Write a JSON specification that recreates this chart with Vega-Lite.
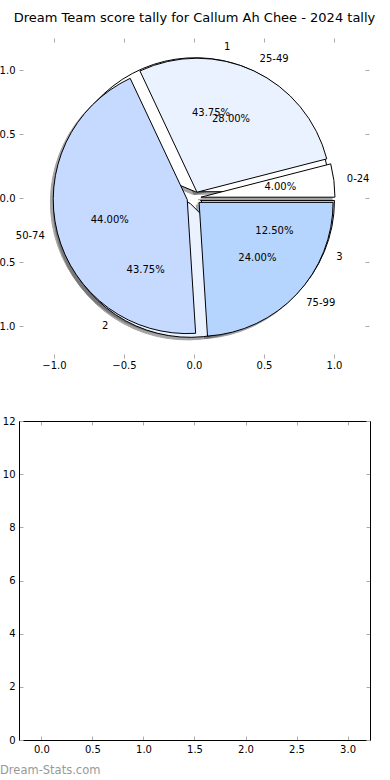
{
  "$schema": "https://vega.github.io/schema/vega-lite/v6.json",
  "width": 351,
  "height": 702,
  "autosize": {"type": "none"},
  "padding": {"left": 19, "top": 38, "right": 20, "bottom": 40},
  "background": "white",
  "title": {"text": "Dream Team score tally for Callum Ah Chee - 2024 tally", "font": "DejaVu Sans", "fontSize": 13, "fontWeight": "normal", "color": "#000", "anchor": "middle", "frame": "group", "baseline": "alphabetic", "offset": 2.3},
  "config": {
    "view": {"stroke": null},
    "font": "DejaVu Sans",
    "axis": {"labelFont": "DejaVu Sans", "labelFontSize": 10, "labelColor": "#000", "tickColor": "#aaa", "tickWidth": 1, "tickSize": -4, "grid": false, "domainColor": "#000", "domainWidth": 1}
  },
  "datasets": {
    "tally": [
      {"label": "0-24", "frac": 0.04},
      {"label": "25-49", "frac": 0.28},
      {"label": "50-74", "frac": 0.44},
      {"label": "75-99", "frac": 0.24}
    ],
    "other": [
      {"label": "1", "frac": 0.4375},
      {"label": "2", "frac": 0.4375},
      {"label": "3", "frac": 0.125}
    ]
  },
  "layer": [
    {
      "layer": [
        {"data": {"name": "other"}, "transform": [{"stack": "frac", "groupby": [], "sort": [{"field": "label", "order": "ascending"}], "as": ["t0", "t1"]}, {"filter": "datum.label === '1'"}],
         "mark": {"type": "arc", "radius": 134, "fill": "#4d4d4d", "stroke": "#4d4d4d", "strokeWidth": 1, "opacity": 0.5},
         "encoding": {"x": {"datum": -0.0102, "type": "quantitative", "scale": {"domain": [-1.25, 1.25], "range": [0, 350], "nice": false, "zero": false}, "axis": null},
                      "y": {"datum": 0.029, "type": "quantitative", "scale": {"domain": [-1.25, 1.25], "range": [320, 0], "nice": false, "zero": false}, "axis": null},
                      "theta": {"field": "t0", "type": "quantitative", "stack": null, "scale": {"domain": [0, 1], "range": [1.5707963, -4.712389]}}, "theta2": {"field": "t1"}}},
        {"data": {"name": "other"}, "transform": [{"stack": "frac", "groupby": [], "sort": [{"field": "label", "order": "ascending"}], "as": ["t0", "t1"]}, {"filter": "datum.label === '2'"}],
         "mark": {"type": "arc", "radius": 134, "fill": "#4d4d4d", "stroke": "#4d4d4d", "strokeWidth": 1, "opacity": 0.5},
         "encoding": {"x": {"datum": -0.0478, "type": "quantitative", "scale": {"domain": [-1.25, 1.25], "range": [0, 350], "nice": false, "zero": false}, "axis": null},
                      "y": {"datum": -0.0616, "type": "quantitative", "scale": {"domain": [-1.25, 1.25], "range": [320, 0], "nice": false, "zero": false}, "axis": null},
                      "theta": {"field": "t0", "type": "quantitative", "stack": null, "scale": {"domain": [0, 1], "range": [1.5707963, -4.712389]}}, "theta2": {"field": "t1"}}},
        {"data": {"name": "other"}, "transform": [{"stack": "frac", "groupby": [], "sort": [{"field": "label", "order": "ascending"}], "as": ["t0", "t1"]}, {"filter": "datum.label === '3'"}],
         "mark": {"type": "arc", "radius": 134, "fill": "#4d4d4d", "stroke": "#4d4d4d", "strokeWidth": 1, "opacity": 0.5},
         "encoding": {"x": {"datum": 0.0262, "type": "quantitative", "scale": {"domain": [-1.25, 1.25], "range": [0, 350], "nice": false, "zero": false}, "axis": null},
                      "y": {"datum": -0.0391, "type": "quantitative", "scale": {"domain": [-1.25, 1.25], "range": [320, 0], "nice": false, "zero": false}, "axis": null},
                      "theta": {"field": "t0", "type": "quantitative", "stack": null, "scale": {"domain": [0, 1], "range": [1.5707963, -4.712389]}}, "theta2": {"field": "t1"}}},
        {"data": {"name": "tally"}, "transform": [{"stack": "frac", "groupby": [], "sort": [{"field": "label", "order": "ascending"}], "as": ["t0", "t1"]}, {"filter": "datum.label === '0-24'"}],
         "mark": {"type": "arc", "radius": 134, "fill": "#4d4d4d", "stroke": "#4d4d4d", "strokeWidth": 1, "opacity": 0.5},
         "encoding": {"x": {"datum": 0.0296, "type": "quantitative", "scale": {"domain": [-1.25, 1.25], "range": [0, 350], "nice": false, "zero": false}, "axis": null},
                      "y": {"datum": -0.0137, "type": "quantitative", "scale": {"domain": [-1.25, 1.25], "range": [320, 0], "nice": false, "zero": false}, "axis": null},
                      "theta": {"field": "t0", "type": "quantitative", "stack": null, "scale": {"domain": [0, 1], "range": [1.5707963, -4.712389]}}, "theta2": {"field": "t1"}}},
        {"data": {"name": "tally"}, "transform": [{"stack": "frac", "groupby": [], "sort": [{"field": "label", "order": "ascending"}], "as": ["t0", "t1"]}, {"filter": "datum.label === '25-49'"}],
         "mark": {"type": "arc", "radius": 134, "fill": "#4d4d4d", "stroke": "#4d4d4d", "strokeWidth": 1, "opacity": 0.5},
         "encoding": {"x": {"datum": 0.0013, "type": "quantitative", "scale": {"domain": [-1.25, 1.25], "range": [0, 350], "nice": false, "zero": false}, "axis": null},
                      "y": {"datum": 0.0252, "type": "quantitative", "scale": {"domain": [-1.25, 1.25], "range": [320, 0], "nice": false, "zero": false}, "axis": null},
                      "theta": {"field": "t0", "type": "quantitative", "stack": null, "scale": {"domain": [0, 1], "range": [1.5707963, -4.712389]}}, "theta2": {"field": "t1"}}},
        {"data": {"name": "tally"}, "transform": [{"stack": "frac", "groupby": [], "sort": [{"field": "label", "order": "ascending"}], "as": ["t0", "t1"]}, {"filter": "datum.label === '50-74'"}],
         "mark": {"type": "arc", "radius": 134, "fill": "#4d4d4d", "stroke": "#4d4d4d", "strokeWidth": 1, "opacity": 0.5},
         "encoding": {"x": {"datum": -0.0684, "type": "quantitative", "scale": {"domain": [-1.25, 1.25], "range": [0, 350], "nice": false, "zero": false}, "axis": null},
                      "y": {"datum": -0.0324, "type": "quantitative", "scale": {"domain": [-1.25, 1.25], "range": [320, 0], "nice": false, "zero": false}, "axis": null},
                      "theta": {"field": "t0", "type": "quantitative", "stack": null, "scale": {"domain": [0, 1], "range": [1.5707963, -4.712389]}}, "theta2": {"field": "t1"}}},
        {"data": {"name": "tally"}, "transform": [{"stack": "frac", "groupby": [], "sort": [{"field": "label", "order": "ascending"}], "as": ["t0", "t1"]}, {"filter": "datum.label === '75-99'"}],
         "mark": {"type": "arc", "radius": 134, "fill": "#4d4d4d", "stroke": "#4d4d4d", "strokeWidth": 1, "opacity": 0.5},
         "encoding": {"x": {"datum": 0.0164, "type": "quantitative", "scale": {"domain": [-1.25, 1.25], "range": [0, 350], "nice": false, "zero": false}, "axis": null},
                      "y": {"datum": -0.0542, "type": "quantitative", "scale": {"domain": [-1.25, 1.25], "range": [320, 0], "nice": false, "zero": false}, "axis": null},
                      "theta": {"field": "t0", "type": "quantitative", "stack": null, "scale": {"domain": [0, 1], "range": [1.5707963, -4.712389]}}, "theta2": {"field": "t1"}}},

        {"data": {"name": "other"}, "transform": [{"stack": "frac", "groupby": [], "sort": [{"field": "label", "order": "ascending"}], "as": ["t0", "t1"]}, {"filter": "datum.label === '1'"}],
         "mark": {"type": "arc", "radius": 134, "stroke": "#000", "strokeWidth": 1},
         "encoding": {"x": {"datum": 0.0098, "type": "quantitative", "scale": {"domain": [-1.25, 1.25], "range": [0, 350], "nice": false, "zero": false}, "axis": null},
                      "y": {"datum": 0.049, "type": "quantitative", "scale": {"domain": [-1.25, 1.25], "range": [320, 0], "nice": false, "zero": false}, "axis": null},
                      "theta": {"field": "t0", "type": "quantitative", "stack": null, "scale": {"domain": [0, 1], "range": [1.5707963, -4.712389]}}, "theta2": {"field": "t1"},
                      "color": {"field": "label", "type": "nominal", "legend": null, "scale": {"domain": ["0-24", "25-49", "50-74", "75-99", "1", "2", "3"], "range": ["#ffffff", "#eaf2ff", "#c6d9ff", "#b5d5ff", "#ffffff", "#eaf2ff", "#c6d9ff"]}}}},
        {"data": {"name": "other"}, "transform": [{"stack": "frac", "groupby": [], "sort": [{"field": "label", "order": "ascending"}], "as": ["t0", "t1"]}, {"filter": "datum.label === '2'"}],
         "mark": {"type": "arc", "radius": 134, "stroke": "#000", "strokeWidth": 1},
         "encoding": {"x": {"datum": -0.0278, "type": "quantitative", "scale": {"domain": [-1.25, 1.25], "range": [0, 350], "nice": false, "zero": false}, "axis": null},
                      "y": {"datum": -0.0416, "type": "quantitative", "scale": {"domain": [-1.25, 1.25], "range": [320, 0], "nice": false, "zero": false}, "axis": null},
                      "theta": {"field": "t0", "type": "quantitative", "stack": null, "scale": {"domain": [0, 1], "range": [1.5707963, -4.712389]}}, "theta2": {"field": "t1"},
                      "color": {"field": "label", "type": "nominal", "legend": null, "scale": {"domain": ["0-24", "25-49", "50-74", "75-99", "1", "2", "3"], "range": ["#ffffff", "#eaf2ff", "#c6d9ff", "#b5d5ff", "#ffffff", "#eaf2ff", "#c6d9ff"]}}}},
        {"data": {"name": "other"}, "transform": [{"stack": "frac", "groupby": [], "sort": [{"field": "label", "order": "ascending"}], "as": ["t0", "t1"]}, {"filter": "datum.label === '3'"}],
         "mark": {"type": "arc", "radius": 134, "stroke": "#000", "strokeWidth": 1},
         "encoding": {"x": {"datum": 0.0462, "type": "quantitative", "scale": {"domain": [-1.25, 1.25], "range": [0, 350], "nice": false, "zero": false}, "axis": null},
                      "y": {"datum": -0.0191, "type": "quantitative", "scale": {"domain": [-1.25, 1.25], "range": [320, 0], "nice": false, "zero": false}, "axis": null},
                      "theta": {"field": "t0", "type": "quantitative", "stack": null, "scale": {"domain": [0, 1], "range": [1.5707963, -4.712389]}}, "theta2": {"field": "t1"},
                      "color": {"field": "label", "type": "nominal", "legend": null, "scale": {"domain": ["0-24", "25-49", "50-74", "75-99", "1", "2", "3"], "range": ["#ffffff", "#eaf2ff", "#c6d9ff", "#b5d5ff", "#ffffff", "#eaf2ff", "#c6d9ff"]}}}},

        {"data": {"name": "tally"}, "transform": [{"stack": "frac", "groupby": [], "sort": [{"field": "label", "order": "ascending"}], "as": ["t0", "t1"]}, {"filter": "datum.label === '0-24'"}],
         "mark": {"type": "arc", "radius": 134, "stroke": "#000", "strokeWidth": 1},
         "encoding": {"x": {"datum": 0.0496, "type": "quantitative", "scale": {"domain": [-1.25, 1.25], "range": [0, 350], "nice": false, "zero": false}, "axis": null},
                      "y": {"datum": 0.0063, "type": "quantitative", "scale": {"domain": [-1.25, 1.25], "range": [320, 0], "nice": false, "zero": false}, "axis": null},
                      "theta": {"field": "t0", "type": "quantitative", "stack": null, "scale": {"domain": [0, 1], "range": [1.5707963, -4.712389]}}, "theta2": {"field": "t1"},
                      "color": {"field": "label", "type": "nominal", "legend": null, "scale": {"domain": ["0-24", "25-49", "50-74", "75-99", "1", "2", "3"], "range": ["#ffffff", "#eaf2ff", "#c6d9ff", "#b5d5ff", "#ffffff", "#eaf2ff", "#c6d9ff"]}}}},
        {"data": {"name": "tally"}, "transform": [{"stack": "frac", "groupby": [], "sort": [{"field": "label", "order": "ascending"}], "as": ["t0", "t1"]}, {"filter": "datum.label === '25-49'"}],
         "mark": {"type": "arc", "radius": 134, "stroke": "#000", "strokeWidth": 1},
         "encoding": {"x": {"datum": 0.0213, "type": "quantitative", "scale": {"domain": [-1.25, 1.25], "range": [0, 350], "nice": false, "zero": false}, "axis": null},
                      "y": {"datum": 0.0452, "type": "quantitative", "scale": {"domain": [-1.25, 1.25], "range": [320, 0], "nice": false, "zero": false}, "axis": null},
                      "theta": {"field": "t0", "type": "quantitative", "stack": null, "scale": {"domain": [0, 1], "range": [1.5707963, -4.712389]}}, "theta2": {"field": "t1"},
                      "color": {"field": "label", "type": "nominal", "legend": null, "scale": {"domain": ["0-24", "25-49", "50-74", "75-99", "1", "2", "3"], "range": ["#ffffff", "#eaf2ff", "#c6d9ff", "#b5d5ff", "#ffffff", "#eaf2ff", "#c6d9ff"]}}}},
        {"data": {"name": "tally"}, "transform": [{"stack": "frac", "groupby": [], "sort": [{"field": "label", "order": "ascending"}], "as": ["t0", "t1"]}, {"filter": "datum.label === '50-74'"}],
         "mark": {"type": "arc", "radius": 134, "stroke": "#000", "strokeWidth": 1},
         "encoding": {"x": {"datum": -0.0484, "type": "quantitative", "scale": {"domain": [-1.25, 1.25], "range": [0, 350], "nice": false, "zero": false}, "axis": null},
                      "y": {"datum": -0.0124, "type": "quantitative", "scale": {"domain": [-1.25, 1.25], "range": [320, 0], "nice": false, "zero": false}, "axis": null},
                      "theta": {"field": "t0", "type": "quantitative", "stack": null, "scale": {"domain": [0, 1], "range": [1.5707963, -4.712389]}}, "theta2": {"field": "t1"},
                      "color": {"field": "label", "type": "nominal", "legend": null, "scale": {"domain": ["0-24", "25-49", "50-74", "75-99", "1", "2", "3"], "range": ["#ffffff", "#eaf2ff", "#c6d9ff", "#b5d5ff", "#ffffff", "#eaf2ff", "#c6d9ff"]}}}},
        {"data": {"name": "tally"}, "transform": [{"stack": "frac", "groupby": [], "sort": [{"field": "label", "order": "ascending"}], "as": ["t0", "t1"]}, {"filter": "datum.label === '75-99'"}],
         "mark": {"type": "arc", "radius": 134, "stroke": "#000", "strokeWidth": 1},
         "encoding": {"x": {"datum": 0.0364, "type": "quantitative", "scale": {"domain": [-1.25, 1.25], "range": [0, 350], "nice": false, "zero": false}, "axis": null},
                      "y": {"datum": -0.0342, "type": "quantitative", "scale": {"domain": [-1.25, 1.25], "range": [320, 0], "nice": false, "zero": false}, "axis": null},
                      "theta": {"field": "t0", "type": "quantitative", "stack": null, "scale": {"domain": [0, 1], "range": [1.5707963, -4.712389]}}, "theta2": {"field": "t1"},
                      "color": {"field": "label", "type": "nominal", "legend": null, "scale": {"domain": ["0-24", "25-49", "50-74", "75-99", "1", "2", "3"], "range": ["#ffffff", "#eaf2ff", "#c6d9ff", "#b5d5ff", "#ffffff", "#eaf2ff", "#c6d9ff"]}}}},

        {"data": {"name": "other"},
         "mark": {"type": "text", "radius": 154, "align": "left", "baseline": "middle", "fontSize": 10, "color": "#000"},
         "encoding": {"x": {"datum": 0, "type": "quantitative", "scale": {"domain": [-1.25, 1.25], "range": [0, 350], "nice": false, "zero": false},
                            "axis": {"orient": "bottom", "offset": -382, "values": [-1, -0.5, 0, 0.5, 1], "format": ".1f", "domain": false, "labelPadding": 6.5, "title": null}},
                      "y": {"datum": 0, "type": "quantitative", "scale": {"domain": [-1.25, 1.25], "range": [320, 0], "nice": false, "zero": false},
                            "axis": {"orient": "left", "values": [-1, -0.5, 0, 0.5, 1], "format": ".1f", "domain": false, "labelPadding": 8, "title": null}},
                      "theta": {"field": "frac", "type": "quantitative", "stack": true, "scale": {"domain": [0, 1], "range": [1.5707963, -4.712389]}},
                      "order": {"field": "label", "type": "ordinal", "sort": "ascending"},
                      "detail": {"field": "label", "type": "nominal"},
                      "text": {"field": "label", "type": "nominal", "condition": {"test": "(datum.frac_start + datum.frac_end) > 0.5 && (datum.frac_start + datum.frac_end) < 1.5", "value": ""}}}},
        {"data": {"name": "other"},
         "mark": {"type": "text", "radius": 154, "align": "right", "baseline": "middle", "fontSize": 10, "color": "#000"},
         "encoding": {"x": {"datum": 0, "type": "quantitative", "scale": {"domain": [-1.25, 1.25], "range": [0, 350], "nice": false, "zero": false},
                            "axis": {"orient": "top", "values": [-1, -0.5, 0, 0.5, 1], "labels": false, "domain": false, "title": null}},
                      "y": {"datum": 0, "type": "quantitative", "scale": {"domain": [-1.25, 1.25], "range": [320, 0], "nice": false, "zero": false},
                            "axis": {"orient": "right", "offset": -1, "values": [-1, -0.5, 0, 0.5, 1], "labels": false, "domain": false, "title": null}},
                      "theta": {"field": "frac", "type": "quantitative", "stack": true, "scale": {"domain": [0, 1], "range": [1.5707963, -4.712389]}},
                      "order": {"field": "label", "type": "ordinal", "sort": "ascending"},
                      "detail": {"field": "label", "type": "nominal"},
                      "text": {"field": "label", "type": "nominal", "condition": {"test": "!((datum.frac_start + datum.frac_end) > 0.5 && (datum.frac_start + datum.frac_end) < 1.5)", "value": ""}}}},
        {"data": {"name": "other"},
         "mark": {"type": "text", "radius": 87, "align": "center", "baseline": "middle", "fontSize": 10, "color": "#000"},
         "encoding": {"x": {"datum": 0, "type": "quantitative", "scale": {"domain": [-1.25, 1.25], "range": [0, 350], "nice": false, "zero": false}, "axis": null},
                      "y": {"datum": 0, "type": "quantitative", "scale": {"domain": [-1.25, 1.25], "range": [320, 0], "nice": false, "zero": false}, "axis": null},
                      "theta": {"field": "frac", "type": "quantitative", "stack": true, "scale": {"domain": [0, 1], "range": [1.5707963, -4.712389]}},
                      "order": {"field": "label", "type": "ordinal", "sort": "ascending"},
                      "detail": {"field": "label", "type": "nominal"},
                      "text": {"field": "frac", "type": "quantitative", "format": ".2%"}}},
        {"data": {"name": "tally"},
         "mark": {"type": "text", "radius": 154, "align": "left", "baseline": "middle", "fontSize": 10, "color": "#000"},
         "encoding": {"x": {"datum": 0, "type": "quantitative", "scale": {"domain": [-1.25, 1.25], "range": [0, 350], "nice": false, "zero": false}, "axis": null},
                      "y": {"datum": 0, "type": "quantitative", "scale": {"domain": [-1.25, 1.25], "range": [320, 0], "nice": false, "zero": false}, "axis": null},
                      "theta": {"field": "frac", "type": "quantitative", "stack": true, "scale": {"domain": [0, 1], "range": [1.5707963, -4.712389]}},
                      "order": {"field": "label", "type": "ordinal", "sort": "ascending"},
                      "detail": {"field": "label", "type": "nominal"},
                      "text": {"field": "label", "type": "nominal", "condition": {"test": "(datum.frac_start + datum.frac_end) > 0.5 && (datum.frac_start + datum.frac_end) < 1.5", "value": ""}}}},
        {"data": {"name": "tally"},
         "mark": {"type": "text", "radius": 154, "align": "right", "baseline": "middle", "fontSize": 10, "color": "#000"},
         "encoding": {"x": {"datum": 0, "type": "quantitative", "scale": {"domain": [-1.25, 1.25], "range": [0, 350], "nice": false, "zero": false}, "axis": null},
                      "y": {"datum": 0, "type": "quantitative", "scale": {"domain": [-1.25, 1.25], "range": [320, 0], "nice": false, "zero": false}, "axis": null},
                      "theta": {"field": "frac", "type": "quantitative", "stack": true, "scale": {"domain": [0, 1], "range": [1.5707963, -4.712389]}},
                      "order": {"field": "label", "type": "ordinal", "sort": "ascending"},
                      "detail": {"field": "label", "type": "nominal"},
                      "text": {"field": "label", "type": "nominal", "condition": {"test": "!((datum.frac_start + datum.frac_end) > 0.5 && (datum.frac_start + datum.frac_end) < 1.5)", "value": ""}}}},
        {"data": {"name": "tally"},
         "mark": {"type": "text", "radius": 87, "align": "center", "baseline": "middle", "fontSize": 10, "color": "#000"},
         "encoding": {"x": {"datum": 0, "type": "quantitative", "scale": {"domain": [-1.25, 1.25], "range": [0, 350], "nice": false, "zero": false}, "axis": null},
                      "y": {"datum": 0, "type": "quantitative", "scale": {"domain": [-1.25, 1.25], "range": [320, 0], "nice": false, "zero": false}, "axis": null},
                      "theta": {"field": "frac", "type": "quantitative", "stack": true, "scale": {"domain": [0, 1], "range": [1.5707963, -4.712389]}},
                      "order": {"field": "label", "type": "ordinal", "sort": "ascending"},
                      "detail": {"field": "label", "type": "nominal"},
                      "text": {"field": "frac", "type": "quantitative", "format": ".2%"}}}
      ]
    },
    {
      "data": {"values": []},
      "layer": [
        {"mark": {"type": "point"},
         "encoding": {"x": {"field": "x", "type": "quantitative", "scale": {"domain": [-0.22, 3.22], "range": [0, 351], "nice": false, "zero": false},
                            "axis": {"orient": "bottom", "values": [0, 0.5, 1, 1.5, 2, 2.5, 3], "format": ".1f", "domain": true, "labelPadding": 8,
                                     "title": "Dream-Stats.com", "titleColor": "#999", "titleFont": "DejaVu Sans", "titleFontSize": 11.5, "titleFontWeight": "normal", "titleAnchor": "start", "titleAlign": "left", "titleBaseline": "alphabetic", "titleX": -19.5, "titleY": 33}},
                      "y": {"field": "y", "type": "quantitative", "scale": {"domain": [0, 12], "range": [702, 383], "nice": false, "zero": false},
                            "axis": {"orient": "left", "values": [0, 2, 4, 6, 8, 10, 12], "format": "d", "domain": true, "labelPadding": 8, "title": null}}}},
        {"mark": {"type": "point"},
         "encoding": {"x": {"field": "x", "type": "quantitative", "scale": {"domain": [-0.22, 3.22], "range": [0, 351], "nice": false, "zero": false},
                            "axis": {"orient": "top", "offset": -383, "values": [0, 0.5, 1, 1.5, 2, 2.5, 3], "labels": false, "domain": true, "title": null}},
                      "y": {"field": "y", "type": "quantitative", "scale": {"domain": [0, 12], "range": [702, 383], "nice": false, "zero": false},
                            "axis": {"orient": "right", "values": [0, 2, 4, 6, 8, 10, 12], "labels": false, "domain": true, "title": null}}}}
      ]
    }
  ],
  "resolve": {"scale": {"x": "independent", "y": "independent"}}
}
